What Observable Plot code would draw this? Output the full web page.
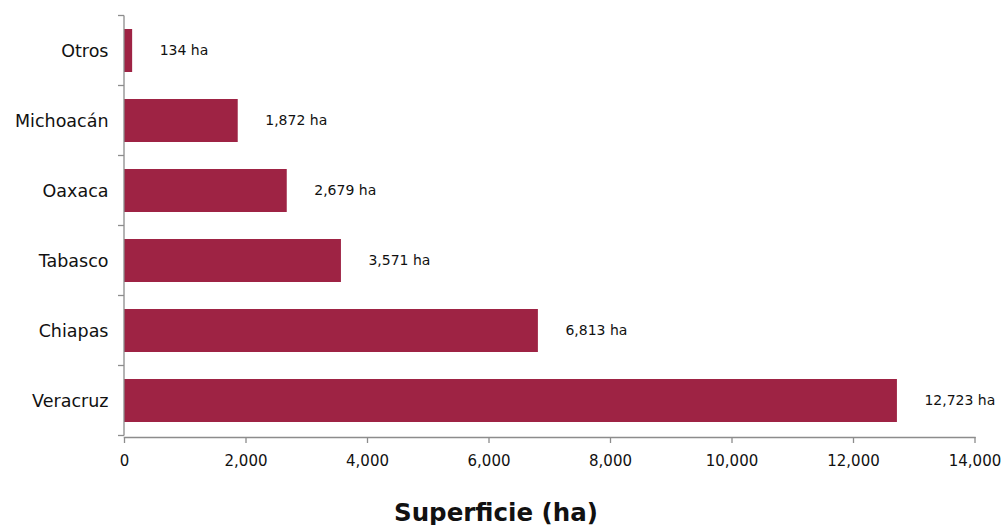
<!DOCTYPE html>
<html>
<head>
<meta charset="utf-8">
<script src="https://cdn.jsdelivr.net/npm/d3@7"></script>
<script src="https://cdn.jsdelivr.net/npm/@observablehq/plot@0.6"></script>
<style>
  html, body { margin: 0; padding: 0; background: #fff; }
  #chart { width: 1006px; height: 472px; }
  #title { width: 1006px; text-align: center; font-family: "DejaVu Sans", sans-serif; font-weight: bold; font-size: 24.5px; color: #111; margin-top: 29px; padding-right: 14px; box-sizing: border-box; line-height: 1; }
</style>
</head>
<body>
<div id="chart"></div>
<div id="title">Superficie (ha)</div>
<script>
const estados = ["Otros", "Michoacán", "Oaxaca", "Tabasco", "Chiapas", "Veracruz"];
const superficie = [134, 1872, 2679, 3571, 6813, 12723];
const xTicks = [0, 2000, 4000, 6000, 8000, 10000, 12000, 14000];

const data = estados.map((e, i) => ({estado: e, ha: superficie[i]}));
const fmt = d3.format(",");
const font = "DejaVu Sans, sans-serif";
const axisColor = "#8c8c8c";

// y-axis line with ticks at band boundaries
const bandTicks = (index, scales, values, dimensions) => {
  const y = scales.y;
  const step = y.step();
  const bw = y.bandwidth();
  const g = d3.create("svg:g");
  const x0 = dimensions.marginLeft;
  const ys = estados.map(c => y(c) + bw / 2 - step / 2);
  ys.push(y(estados[estados.length - 1]) + bw / 2 + step / 2);
  g.append("line")
    .attr("x1", x0).attr("x2", x0)
    .attr("y1", ys[0]).attr("y2", ys[ys.length - 1])
    .attr("stroke", axisColor).attr("stroke-width", 1.3);
  for (const t of ys) {
    g.append("line")
      .attr("x1", x0 - 6).attr("x2", x0)
      .attr("y1", t).attr("y2", t)
      .attr("stroke", axisColor).attr("stroke-width", 1.3);
  }
  return g.node();
};

const chart = Plot.plot({
  width: 1006,
  height: 472,
  marginLeft: 124,
  marginRight: 31.5,
  marginTop: 14,
  marginBottom: 35,
  style: {fontFamily: font, fontSize: "15px", color: "#111", background: "#fff"},
  x: {domain: [0, 14000], ticks: xTicks, tickFormat: fmt, label: null},
  y: {domain: estados, paddingInner: 0.39, paddingOuter: 0.195, label: null},
  marks: [
    Plot.barX(data, {x: "ha", y: "estado", fill: "#9e2344"}),
    Plot.text(data, {x: "ha", y: "estado", text: d => fmt(d.ha) + " ha", textAnchor: "start", dx: 27, fontSize: 14, fill: "#111"}),
    Plot.axisY({tickSize: 0, tickPadding: 16, fontSize: 17.5, label: null}),
    Plot.axisX({ticks: xTicks, tickFormat: fmt, tickSize: 6, tickPadding: 12, fontSize: 15, stroke: axisColor, strokeWidth: 1.3, label: null}),
    Plot.frame({anchor: "bottom", stroke: axisColor, strokeWidth: 1.3}),
    bandTicks
  ]
});
document.getElementById("chart").appendChild(chart);
</script>
</body>
</html>
